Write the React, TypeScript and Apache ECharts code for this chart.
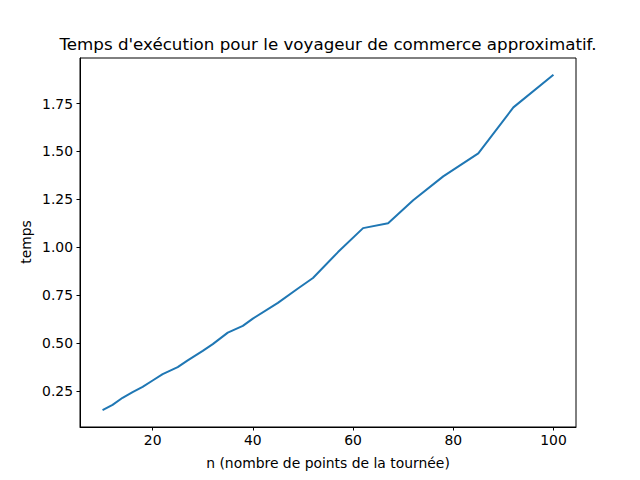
import React, { useEffect, useRef } from "react";
import * as echarts from "echarts";

const nValues = [10, 12, 14, 16, 18, 20, 22, 25, 27, 30, 32, 35, 38, 40, 45, 49, 52, 57, 62, 67, 72, 78, 85, 92, 100];
const tempsValues = [0.15, 0.178, 0.215, 0.245, 0.272, 0.305, 0.338, 0.375, 0.41, 0.46, 0.495, 0.555, 0.59, 0.628, 0.71, 0.785, 0.84, 0.975, 1.1, 1.125, 1.245, 1.37, 1.49, 1.73, 1.9];
const xTicks = [20, 40, 60, 80, 100];
const yTicks = [0.25, 0.5, 0.75, 1.0, 1.25, 1.5, 1.75];

const titleText = "Temps d'exécution pour le voyageur de commerce approximatif.";
const xLabel = "n (nombre de points de la tournée)";
const yLabel = "temps";

export default function App() {
  const ref = useRef<HTMLDivElement>(null);
  useEffect(() => {
    if (!ref.current) return;
    const chart = echarts.init(ref.current, null, { renderer: "svg" });
    const font = "DejaVu Sans";
    chart.setOption({
      animation: false,
      backgroundColor: "#ffffff",
      textStyle: { fontFamily: font },
      grid: {
        left: 80,
        right: 64,
        top: 58,
        bottom: 53,
        show: true,
        borderColor: "#000",
        borderWidth: 1,
        backgroundColor: "#fff",
      },
      graphic: [
        {
          type: "text",
          x: 328,
          y: 44,
          style: {
            text: titleText,
            font: `16.7px ${font}`,
            fill: "#000",
            align: "center",
            verticalAlign: "middle",
          },
        },
        {
          type: "text",
          x: 328,
          y: 463,
          style: {
            text: xLabel,
            font: `13.9px ${font}`,
            fill: "#000",
            align: "center",
            verticalAlign: "middle",
          },
        },
        {
          type: "text",
          x: 26,
          y: 242,
          rotation: Math.PI / 2,
          style: {
            text: yLabel,
            font: `13.9px ${font}`,
            fill: "#000",
            align: "center",
            verticalAlign: "middle",
          },
        },
      ],
      xAxis: {
        type: "value",
        min: 5.5,
        max: 104.5,
        splitLine: { show: false },
        axisLine: { show: true, lineStyle: { color: "#000", width: 1 } },
        axisTick: {
          show: true,
          customValues: xTicks,
          length: 3.5,
          inside: false,
          lineStyle: { color: "#000", width: 1 },
        },
        axisLabel: {
          customValues: xTicks,
          color: "#000",
          fontSize: 13.9,
          fontFamily: font,
          margin: 6,
          formatter: (v: number) => String(v),
        },
      },
      yAxis: {
        type: "value",
        min: 0.0625,
        max: 1.9875,
        splitLine: { show: false },
        axisLine: { show: true, lineStyle: { color: "#000", width: 1 } },
        axisTick: {
          show: true,
          customValues: yTicks,
          length: 3.5,
          inside: false,
          lineStyle: { color: "#000", width: 1 },
        },
        axisLabel: {
          customValues: yTicks,
          color: "#000",
          fontSize: 13.9,
          fontFamily: font,
          margin: 7,
          formatter: (v: number) => v.toFixed(2),
        },
      },
      series: [
        {
          type: "line",
          data: nValues.map((n, i) => [n, tempsValues[i]]),
          showSymbol: false,
          lineStyle: { color: "#1f77b4", width: 2 },
          itemStyle: { color: "#1f77b4" },
        },
      ],
    });
    return () => chart.dispose();
  }, []);
  return <div ref={ref} style={{ width: 640, height: 480, position: "absolute", left: 0, top: 0 }} />;
}
